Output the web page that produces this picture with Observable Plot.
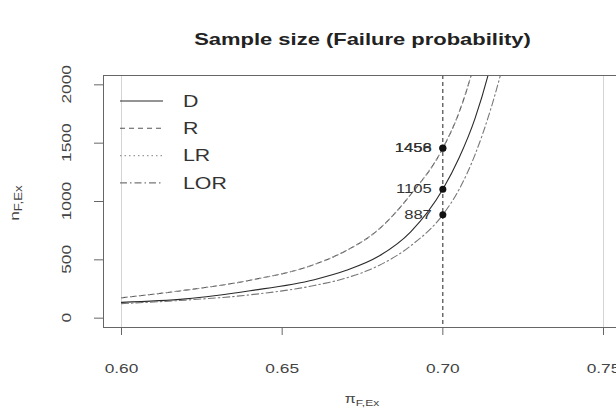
<!DOCTYPE html>
<html>
<head>
<meta charset="utf-8">
<script src="https://cdn.jsdelivr.net/npm/d3@7"></script>
<script src="https://cdn.jsdelivr.net/npm/@observablehq/plot@0.6"></script>
<style>
  html, body { margin: 0; padding: 0; background: #fff; overflow: hidden; }
  #chart svg { overflow: hidden; display: block; }
</style>
</head>
<body>
<div id="chart"></div>
<script>
// Failure probability grid (pi_F,Ex)
const piGrid = [0.60, 0.62, 0.64, 0.66, 0.67, 0.68, 0.69, 0.70, 0.705, 0.71, 0.715, 0.72];

// Required sample size n_F,Ex for each method
const nD   = [135, 165, 235, 330, 410, 530, 740, 1105, 1370, 1710, 2180, 2800];
const nR   = [175, 240, 325, 460, 580, 760, 1060, 1456, 1760, 2200, 2800, 3500];
const nLR  = [175, 240, 325, 460, 580, 760, 1060, 1458, 1760, 2200, 2800, 3500];
const nLOR = [125, 155, 200, 280, 345, 450, 620, 887, 1100, 1400, 1800, 2300];

// Design point
const piDesign = 0.70;
const methods = ["D", "R", "LR", "LOR"];
const series = [nD, nR, nLR, nLOR];

const xTicks = [0.60, 0.65, 0.70, 0.75];
const yTicks = [0, 500, 1000, 1500, 2000];
const refLines = [0.60, 0.75];

const styles = {
  D:   {stroke: "#2a2a2a", dash: null},
  R:   {stroke: "#555", dash: "5,4"},
  LR:  {stroke: "#9a9a9a", dash: "1.5,3"},
  LOR: {stroke: "#777", dash: "7,3,1.5,3"}
};

const rows = methods.flatMap((m, i) => piGrid.map((p, j) => ({method: m, pi: p, n: series[i][j]})));
const designRows = methods.map((m, i) => ({method: m, pi: piDesign, n: series[i][piGrid.indexOf(piDesign)]}));

const font = "'Liberation Sans', Arial, Helvetica, sans-serif";
const textColor = "#444";

const lineMarks = methods.map(m => Plot.line(rows.filter(d => d.method === m), {
  x: "pi", y: "n", curve: "monotone-x", stroke: styles[m].stroke,
  strokeDasharray: styles[m].dash, strokeWidth: 1.1, clip: true
}));

const plot = Plot.plot({
  width: 616,
  height: 410,
  marginLeft: 103,
  marginRight: -5,
  marginTop: 75,
  marginBottom: 83,
  style: {fontFamily: font, background: "#fff", color: textColor},
  x: {domain: [0.5944, 0.7556]},
  y: {domain: [-80, 2080]},
  marks: [
    Plot.ruleX(refLines, {stroke: "#d4d4d4", strokeWidth: 1}),
    ...lineMarks,
    Plot.ruleX([piDesign], {stroke: "#222", strokeDasharray: "4,3", strokeWidth: 1}),
    Plot.dot(designRows, {x: "pi", y: "n", r: 3.5, fill: "#111", stroke: "none"}),
    Plot.text(designRows, {x: "pi", y: "n", text: d => String(d.n), textAnchor: "end", dx: -11,
      fontSize: 12.5, fill: "#333"}),
    Plot.frame({stroke: "#666", strokeWidth: 1}),
    Plot.axisX({ticks: xTicks, tickFormat: d3.format(".2f"), tickSize: 8, tickPadding: 28,
      fontSize: 13, label: null, stroke: "#666", color: textColor}),
    Plot.axisY({ticks: yTicks, tickFormat: () => "", tickSize: 9, label: null, stroke: "#666"}),
    Plot.text(["Sample size (Failure probability)"], {frameAnchor: "top", dy: -42,
      fontSize: 16.5, fontWeight: "bold", fill: "#222"})
  ]
});

const svg = d3.select(plot);
const yScale = plot.scale("y");

// rotated y tick labels, placed with the plot's own y scale
const yLabels = svg.append("g").attr("font-family", font).attr("font-size", 13)
  .attr("fill", textColor).attr("text-anchor", "middle");
yTicks.forEach(v => {
  yLabels.append("text")
    .attr("transform", `translate(71,${yScale.apply(v)}) rotate(-90)`)
    .text(String(v));
});

// axis titles with subscripts
const yl = svg.append("text")
  .attr("transform", "translate(19,203) rotate(-90)")
  .attr("text-anchor", "middle")
  .attr("font-family", font)
  .attr("fill", textColor)
  .attr("font-size", 13);
yl.append("tspan").text("n");
yl.append("tspan").attr("font-size", 10).attr("dy", 3).text("F,Ex");

const xl = svg.append("text")
  .attr("transform", "translate(362,403)")
  .attr("text-anchor", "middle")
  .attr("font-family", font)
  .attr("fill", textColor)
  .attr("font-size", 12);
xl.append("tspan").text("π");
xl.append("tspan").attr("font-size", 9).attr("dy", 3).text("F,Ex");

// legend
const legend = svg.append("g").attr("font-family", font).attr("font-size", 16)
  .attr("fill", "#333").attr("text-anchor", "start");
methods.forEach((m, i) => {
  const y = 101 + i * 27.3;
  legend.append("line").attr("x1", 120).attr("x2", 163).attr("y1", y).attr("y2", y)
    .attr("stroke", styles[m].stroke).attr("stroke-width", 1.1)
    .attr("stroke-dasharray", styles[m].dash);
  legend.append("text").attr("x", 183).attr("y", y).attr("dy", "0.35em").text(m);
});

document.getElementById("chart").appendChild(plot);

// the device font renders wide: stretch glyphs along the baseline
const widen = 1.33;
plot.querySelectorAll("text, tspan").forEach(t => {
  if (t.querySelector("tspan")) return;
  const len = t.getComputedTextLength();
  if (len > 0) {
    t.setAttribute("textLength", (len * widen).toFixed(1));
    t.setAttribute("lengthAdjust", "spacingAndGlyphs");
  }
});
</script>
</body>
</html>
